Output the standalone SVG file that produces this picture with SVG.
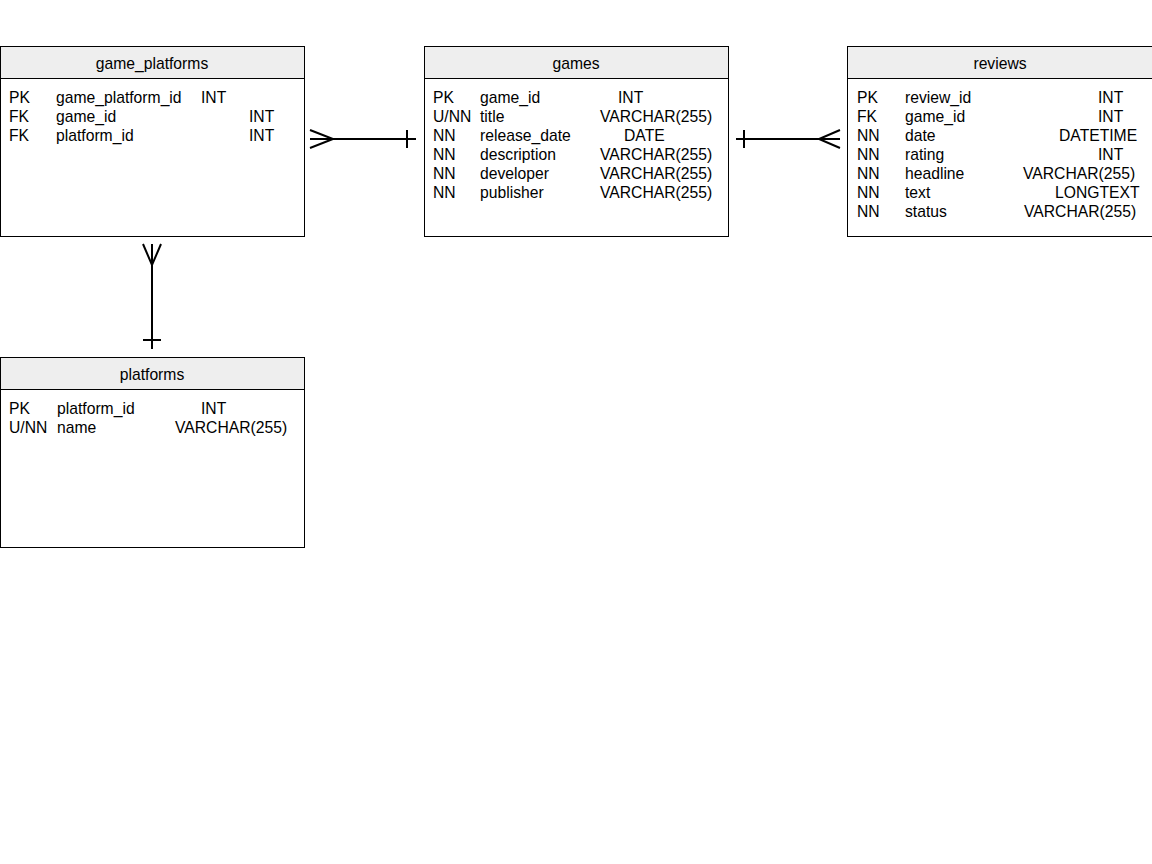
<svg xmlns="http://www.w3.org/2000/svg" width="1152" height="864" viewBox="0 0 1152 864">
<style>
.box{fill:#ffffff;stroke:#000000;stroke-width:1}
.hdr{fill:#eeeeee;stroke:#000000;stroke-width:1}
text{font-family:"Liberation Sans",Arial,sans-serif;font-size:15.7px;fill:#000000}
.title{text-anchor:middle}
.conn{fill:none;stroke:#000000;stroke-width:2}
</style>
<rect x="0" y="0" width="1152" height="864" fill="#ffffff"/>
<g id="game_platforms">
<rect class="box" x="0.5" y="46.5" width="304" height="190"/>
<rect class="hdr" x="0.5" y="46.5" width="304" height="32"/>
<text class="title" x="152" y="68.5">game_platforms</text>
<text x="9" y="103">PK</text><text x="56" y="103">game_platform_id</text><text x="201" y="103">INT</text>
<text x="9" y="122">FK</text><text x="56" y="122">game_id</text><text x="249" y="122">INT</text>
<text x="9" y="141">FK</text><text x="56" y="141">platform_id</text><text x="249" y="141">INT</text>
</g>
<g id="games">
<rect class="box" x="424.5" y="46.5" width="304" height="190"/>
<rect class="hdr" x="424.5" y="46.5" width="304" height="32"/>
<text class="title" x="576" y="68.5">games</text>
<text x="433" y="103">PK</text><text x="480" y="103">game_id</text><text x="618" y="103">INT</text>
<text x="433" y="122">U/NN</text><text x="480" y="122">title</text><text x="600" y="122">VARCHAR(255)</text>
<text x="433" y="141">NN</text><text x="480" y="141">release_date</text><text x="624" y="141">DATE</text>
<text x="433" y="160">NN</text><text x="480" y="160">description</text><text x="600" y="160">VARCHAR(255)</text>
<text x="433" y="179">NN</text><text x="480" y="179">developer</text><text x="600" y="179">VARCHAR(255)</text>
<text x="433" y="198">NN</text><text x="480" y="198">publisher</text><text x="600" y="198">VARCHAR(255)</text>
</g>
<g id="reviews">
<rect class="box" x="847.5" y="46.5" width="306" height="190"/>
<rect class="hdr" x="847.5" y="46.5" width="306" height="32"/>
<text class="title" x="1000" y="68.5">reviews</text>
<text x="857" y="103">PK</text><text x="905" y="103">review_id</text><text x="1098" y="103">INT</text>
<text x="857" y="122">FK</text><text x="905" y="122">game_id</text><text x="1098" y="122">INT</text>
<text x="857" y="141">NN</text><text x="905" y="141">date</text><text x="1059" y="141">DATETIME</text>
<text x="857" y="160">NN</text><text x="905" y="160">rating</text><text x="1098" y="160">INT</text>
<text x="857" y="179">NN</text><text x="905" y="179">headline</text><text x="1023" y="179">VARCHAR(255)</text>
<text x="857" y="198">NN</text><text x="905" y="198">text</text><text x="1055" y="198">LONGTEXT</text>
<text x="857" y="217">NN</text><text x="905" y="217">status</text><text x="1024" y="217">VARCHAR(255)</text>
</g>
<g id="platforms">
<rect class="box" x="0.5" y="357.5" width="304" height="190"/>
<rect class="hdr" x="0.5" y="357.5" width="304" height="32"/>
<text class="title" x="152" y="379.5">platforms</text>
<text x="9" y="414">PK</text><text x="57" y="414">platform_id</text><text x="201" y="414">INT</text>
<text x="9" y="433">U/NN</text><text x="57" y="433">name</text><text x="175" y="433">VARCHAR(255)</text>
</g>
<g id="connectors">
<path class="conn" d="M310 139 H416 M310 130 L333 139 L310 148 M407 130 V148"/>
<path class="conn" d="M736 139 H840 M840 130 L819 139 L840 148 M744 130 V148"/>
<path class="conn" d="M152 244 V349 M143 244 L152 265 L161 244 M143 340 H161"/>
</g>
</svg>
